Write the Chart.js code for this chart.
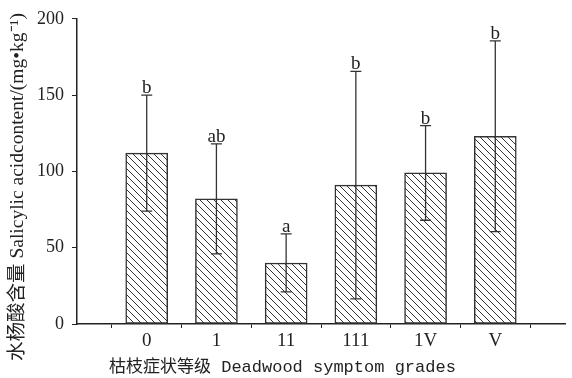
<!DOCTYPE html>
<html>
<head>
<meta charset="utf-8">
<script src="https://cdn.jsdelivr.net/npm/chart.js@4.4.0/dist/chart.umd.min.js"></script>
<style>
  html, body { margin: 0; padding: 0; background: #fff; }
  #wrap { width: 572px; height: 378px; }
</style>
</head>
<body>
<div id="wrap"><canvas id="saChart"></canvas></div>
<script>
// Data
const categories = ["0", "1", "11", "111", "1V", "V"];
const means = [112, 82, 40, 91, 99, 123];
const sd = [38, 36, 19, 74.5, 31, 62.5];
const letters = ["b", "ab", "a", "b", "b", "b"];
const yTicks = [0, 50, 100, 150, 200];

const yTitle = "水杨酸含量 Salicylic acidcontent/(mg•kg⁻¹)";
const xTitle = "枯枝症状等级 Deadwood symptom grades";

const serif = '"Liberation Serif", "Noto Sans CJK SC", serif';
const mono = '"Liberation Mono", "Noto Sans CJK SC", monospace';
const ink = "#222";

// Diagonal hatch pattern for the bars
function makeHatch() {
    const s = 7;
    const c = document.createElement("canvas");
    c.width = s;
    c.height = s;
    const g = c.getContext("2d");
    g.fillStyle = "#fff";
    g.fillRect(0, 0, s, s);
    g.strokeStyle = "#333";
    g.lineWidth = 1;
    g.beginPath();
    g.moveTo(0, 0); g.lineTo(s, s);
    g.moveTo(-1, s - 1); g.lineTo(1, s + 1);
    g.moveTo(s - 1, -1); g.lineTo(s + 1, 1);
    g.stroke();
    return g.createPattern(c, "repeat");
}

// Error bars, significance letters and the two axis titles
const extras = {
    id: "extras",
    afterDatasetsDraw(chart) {
        const { ctx, scales: { x, y } } = chart;
        ctx.save();
        ctx.strokeStyle = "#333";
        ctx.lineWidth = 1.3;
        ctx.fillStyle = ink;
        ctx.font = "19px " + serif;
        ctx.textAlign = "center";
        ctx.textBaseline = "alphabetic";
        const cap = 5.5;
        means.forEach((m, i) => {
            const px = x.getPixelForValue(i);
            const hi = y.getPixelForValue(m + sd[i]);
            const lo = y.getPixelForValue(m - sd[i]);
            ctx.beginPath();
            ctx.moveTo(px, hi); ctx.lineTo(px, lo);
            ctx.moveTo(px - cap, hi); ctx.lineTo(px + cap, hi);
            ctx.moveTo(px - cap, lo); ctx.lineTo(px + cap, lo);
            ctx.stroke();
            ctx.fillText(letters[i], px, hi - 2);
        });
        ctx.restore();
    },
    afterDraw(chart) {
        const ctx = chart.ctx;
        ctx.save();
        ctx.fillStyle = ink;
        ctx.textBaseline = "middle";
        ctx.font = "17px " + mono;
        ctx.textAlign = "left";
        ctx.fillText(xTitle, 109, 367);
        ctx.translate(18, 187);
        ctx.rotate(-Math.PI / 2);
        ctx.textAlign = "center";
        ctx.font = "19.5px " + serif;
        ctx.fillText(yTitle, 0, 0);
        ctx.restore();
    }
};

const ctx = document.getElementById("saChart").getContext("2d");

new Chart(ctx, {
    type: "bar",
    data: {
        datasets: [{
            data: means.map((v, i) => ({ x: i, y: v })),
            backgroundColor: makeHatch(),
            borderColor: "#333",
            borderWidth: 1.5,
            borderSkipped: false,
            barThickness: 42
        }]
    },
    options: {
        responsive: true,
        maintainAspectRatio: false,
        animation: false,
        layout: { padding: { top: 15, right: 7, left: 0, bottom: 0 } },
        plugins: {
            legend: { display: false },
            tooltip: { enabled: false },
            title: { display: false }
        },
        scales: {
            x: {
                type: "linear",
                offset: false,
                min: -1,
                max: 6,
                afterBuildTicks: (scale) => {
                    scale.ticks = categories.map((c, i) => ({ value: i }));
                },
                afterFit: (scale) => { scale.height = 54; },
                ticks: {
                    callback: (v) => categories[v] ?? "",
                    color: ink,
                    font: { family: serif, size: 19 },
                    padding: 2,
                    maxRotation: 0
                },
                grid: { display: true, drawOnChartArea: false, drawTicks: true, tickLength: 4, color: ink },
                border: { display: true, color: ink, width: 1.5 }
            },
            y: {
                min: 0,
                max: 200,
                afterBuildTicks: (scale) => {
                    scale.ticks = yTicks.map((v) => ({ value: v }));
                },
                afterFit: (scale) => { scale.width = 77; },
                ticks: {
                    color: ink,
                    font: { family: serif, size: 18 },
                    padding: 8
                },
                grid: { display: true, drawOnChartArea: false, drawTicks: true, tickLength: 5, color: ink },
                border: { display: true, color: ink, width: 1.5 }
            }
        }
    },
    plugins: [extras]
});
</script>
</body>
</html>
